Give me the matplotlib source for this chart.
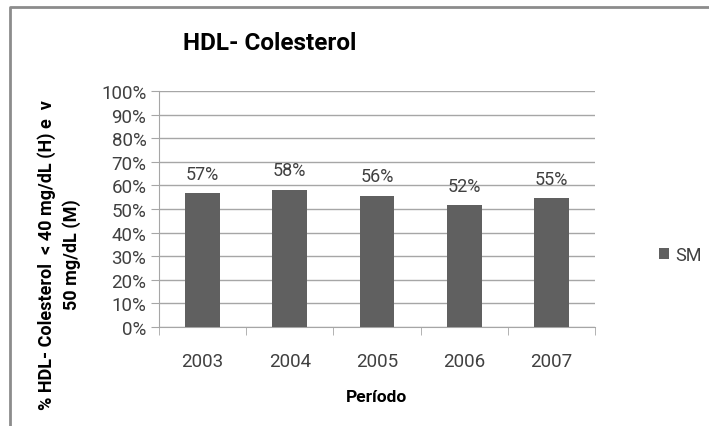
import matplotlib.pyplot as plt
from matplotlib.lines import Line2D
from matplotlib.patches import Patch

years = ['2003', '2004', '2005', '2006', '2007']
sm_values = [0.566, 0.582, 0.557, 0.517, 0.546]
sm_labels = ['57%', '58%', '56%', '52%', '55%']
y_ticks = [i / 10 for i in range(11)]
y_tick_labels = [f'{i * 10}%' for i in range(11)]

plt.rcParams['font.family'] = ['Roboto', 'DejaVu Sans']

W, H = 709, 427
fig = plt.figure(figsize=(W / 100, H / 100), dpi=100)
ax = fig.add_axes([159 / W, 1 - 328 / H, (595 - 159) / W, (328 - 92) / H])

bar_color = '#606060'
grid_color = '#a6a6a6'
text_color = '#404040'

x = range(len(years))
ax.bar(x, sm_values, width=0.40, color=bar_color, zorder=3)
for xi, v, lab in zip(x, sm_values, sm_labels):
    ax.annotate(lab, (xi, v), xytext=(0, 14), textcoords='offset points',
                ha='center', va='center', fontsize=13, color=text_color)

ax.set_xlim(-0.5, len(years) - 0.5)
ax.set_ylim(0, 1)
ax.set_yticks(y_ticks)
ax.set_yticklabels(y_tick_labels, fontsize=13.5, color=text_color)
ax.set_xticks(list(x))
ax.set_xticklabels(years, fontsize=13.5, color=text_color)
ax.set_xticks([i - 0.5 for i in range(len(years) + 1)], minor=True)
ax.tick_params(axis='x', which='major', length=0, pad=18)
ax.tick_params(axis='x', which='minor', length=6, color=grid_color)
ax.tick_params(axis='y', length=6, color=grid_color, pad=3)
ax.yaxis.grid(True, color=grid_color, linewidth=1, zorder=0)
for s in ['top', 'right']:
    ax.spines[s].set_visible(False)
for s in ['left', 'bottom']:
    ax.spines[s].set_color(grid_color)

fig.text(377 / W, 1 - 398 / H, 'Período', ha='center', va='center',
         fontsize=12.5, fontweight='bold')
fig.text(59 / W, 1 - 255 / H, '% HDL- Colesterol  < 40 mg/dL (H) e  v\n50 mg/dL (M)',
         rotation=90, ha='center', va='center', fontsize=13, fontweight='bold',
         linespacing=1.4, multialignment='center')

fig.text(270 / W, 1 - 44 / H, 'HDL- Colesterol', ha='center', va='center',
         fontsize=17.5, fontweight='bold')

handle = Patch(facecolor=bar_color)
fig.legend([handle], ['SM'], loc='center left', bbox_to_anchor=(659 / W, 1 - 256 / H),
           frameon=False, fontsize=13, handlelength=0.55, handleheight=0.55,
           handletextpad=0.35, labelcolor=text_color, borderpad=0, borderaxespad=0)

# outer chart frame
fig.add_artist(Line2D([10 / W, 10 / W, 1], [0, 1 - 8 / H, 1 - 8 / H],
                      transform=fig.transFigure, color='#8c8c8c', linewidth=2))

fig.savefig('out.png', dpi=100)
